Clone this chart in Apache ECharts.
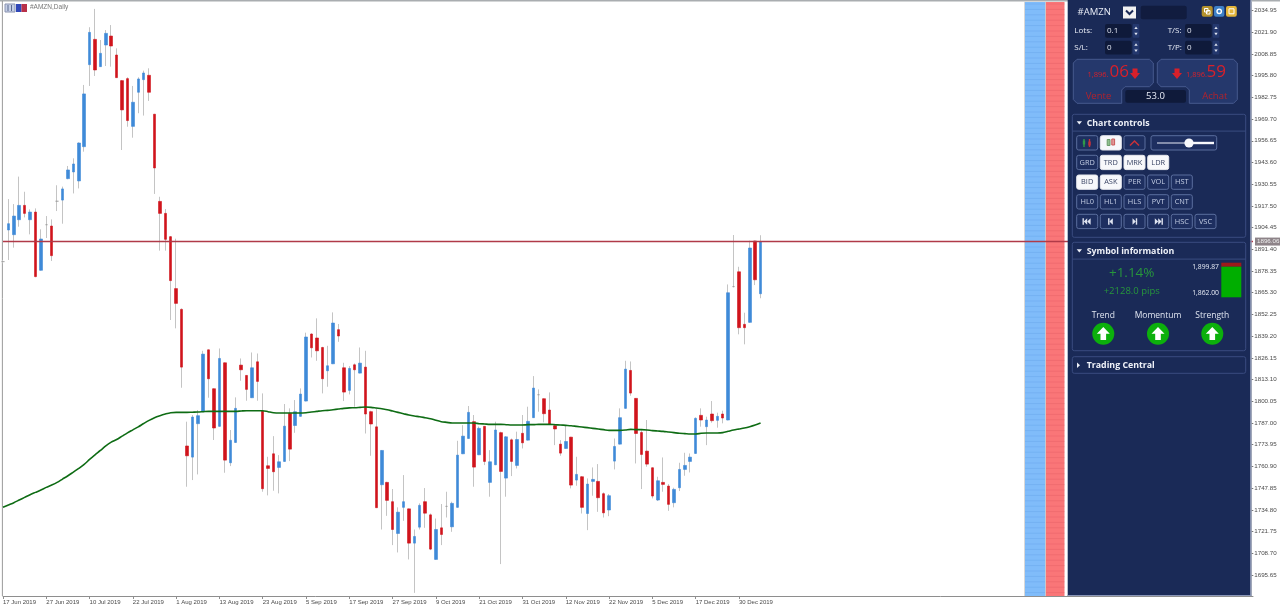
<!DOCTYPE html>
<html><head><meta charset="utf-8">
<style>html,body{margin:0;padding:0;background:#fff}#c{width:1280px;height:609px}</style>
<script src="https://cdn.jsdelivr.net/npm/echarts@6/dist/echarts.min.js"></script>
</head><body><div id="c"></div>
<script>
const tickLabels=['17 Jun 2019','27 Jun 2019','10 Jul 2019','22 Jul 2019','1 Aug 2019','13 Aug 2019','23 Aug 2019','5 Sep 2019','17 Sep 2019','27 Sep 2019','9 Oct 2019','21 Oct 2019','31 Oct 2019','12 Nov 2019','22 Nov 2019','5 Dec 2019','17 Dec 2019','30 Dec 2019'];
const priceTicks=[2034.95,2021.90,2008.85,1995.80,1982.75,1969.70,1956.65,1943.60,1930.55,1917.50,1904.45,1891.40,1878.35,1865.30,1852.25,1839.20,1826.15,1813.10,1800.05,1787.00,1773.95,1760.90,1747.85,1734.80,1721.75,1708.70,1695.65];
const lastPrice=1896.06;
const opens=[1884,1903.0,1900.2,1909.2,1917.8,1909.2,1913.8,1878.8,1906.2,1905.4,1920.3,1921.0,1933.9,1937.9,1932.5,1953.1,2002.4,2017.6,2001.2,2014.2,2019.6,2008.2,1992.8,1994.0,1965.3,1985.8,1993.4,1996.0,1972.6,1920.2,1913.0,1899.0,1867.8,
1855.3,1773.2,1766.5,1786.6,1793.8,1831.0,1807.6,1785.0,1823.2,1763.1,1775.3,1821.8,1815.6,1802.2,1823.8,1794.2,1761.3,1768.5,1760.3,1763.9,1792.8,1785.5,1791.0,1800.2,1840.5,1838.1,1832.4,1818.4,1822.6,1843.1,1820.2,1806.6,1822.0,1817.0,1820.6,1793.8,1784.7,1749.9,1751.3,1739.7,1720.6,1736.3,1735.4,1714.8,1724.4,1739.7,1731.8,1705.0,1724.0,1736.9,1724.6,1736.3,1768.5,1777.7,1787.8,1767.9,1785.0,1751.3,1761.9,1781.2,1753.9,1776.9,1761.5,1780.8,1776.7,
1790.2,1804.0,1801.6,1794.8,1785.4,1774.3,1771.7,1778.5,1752.7,1754.7,1732.6,1751.9,1751.9,1744.5,1734.7,1764.1,1774.3,1795.8,1818.6,1801.8,1781.3,1770.1,1760.1,1740.7,1751.3,1749.1,1739.1,1748.1,1759.1,1763.9,1768.7,1791.6,1784.8,1792.4,1788.6,1792.4,1788.8,1869.0,1877.9,1846.3,1847.5,1896.4,1864.7];
const closes=[1884,1906.8,1911.4,1917.8,1913.0,1913.8,1875.0,1897.6,1906.2,1887.6,1920.3,1927.7,1939.1,1942.7,1955.3,1984.8,2021.8,1999.2,2009.2,2021.2,2013.6,1994.6,1975.2,1968.8,1979.8,1993.8,1997.4,1985.8,1940.3,1913.0,1897.4,1872.6,1858.9,
1820.6,1767.3,1790.6,1791.4,1828.4,1813.6,1784.0,1825.8,1764.7,1776.6,1795.8,1819.0,1807.2,1820.2,1812.0,1747.5,1759.7,1757.7,1763.7,1785.1,1771.3,1793.8,1804.4,1838.7,1832.2,1830.4,1813.6,1821.4,1847.1,1839.3,1805.6,1819.8,1819.0,1823.0,1792.4,1786.4,1736.1,1770.5,1740.5,1723.0,1733.4,1739.7,1714.8,1718.8,1737.5,1732.8,1711.2,1723.0,1720.0,1736.9,1738.7,1767.7,1779.1,1793.4,1760.5,1783.8,1763.9,1763.7,1782.8,1757.9,1778.7,1763.9,1777.1,1775.1,1788.0,
1808.0,1804.0,1792.6,1786.4,1783.4,1768.9,1775.9,1749.7,1756.1,1736.3,1750.3,1753.1,1742.1,1733.0,1743.3,1772.9,1790.2,1819.4,1805.0,1780.7,1768.1,1762.3,1743.1,1752.3,1750.1,1738.1,1747.1,1759.1,1761.5,1766.5,1789.8,1788.8,1788.8,1788.4,1791.0,1790.0,1865.3,1869.0,1844.3,1844.3,1892.2,1873.1,1896.0];
const lows=[1883,1885.0,1892.4,1905.0,1910.6,1900.4,1874.6,1878.6,1898.2,1884.4,1914.4,1906.8,1933.5,1925.0,1928.0,1950.1,1989.6,1995.6,2001.0,2001.6,2001.2,1994.4,1951.1,1965.1,1958.5,1973.2,1971.8,1980.6,1924.7,1890.6,1890.6,1848.9,1843.9,
1808.2,1748.7,1752.7,1756.1,1793.6,1802.2,1776.8,1784.8,1757.1,1761.1,1775.1,1812.4,1800.4,1802.0,1800.4,1745.7,1743.5,1746.3,1744.7,1763.7,1764.1,1781.1,1790.8,1800.0,1826.4,1824.4,1804.8,1808.8,1822.4,1835.8,1800.2,1804.2,1796.8,1816.8,1780.7,1767.3,1735.9,1723.0,1731.2,1713.6,1709.2,1728.2,1705.0,1684.9,1723.0,1724.0,1710.6,1704.8,1713.6,1730.2,1721.6,1736.1,1768.3,1777.5,1748.7,1767.7,1761.7,1742.7,1761.7,1702.2,1742.7,1755.1,1759.7,1771.7,1776.5,
1790.0,1793.8,1787.4,1786.2,1773.7,1767.3,1771.5,1747.7,1749.3,1732.6,1722.6,1743.3,1733.6,1730.2,1731.0,1759.1,1774.1,1795.6,1803.4,1762.7,1747.3,1760.7,1741.7,1740.1,1745.7,1734.2,1736.3,1746.1,1755.3,1757.3,1768.5,1784.8,1773.7,1787.2,1784.2,1786.8,1788.6,1868.5,1840.3,1834.3,1847.3,1869.9,1862.0];
const highs=[1885,1921.6,1918.6,1935.1,1926.0,1915.4,1916.0,1903.4,1911.4,1909.4,1929.9,1929.1,1941.5,1946.1,1955.7,1990.2,2024.9,2035.9,2017.2,2023.2,2026.2,2012.2,1993.2,1994.8,1989.6,1994.8,1998.8,2000.2,1972.8,1923.0,1915.6,1899.4,1897.8,
1855.9,1787.8,1791.8,1794.8,1830.4,1831.2,1807.8,1831.8,1823.4,1782.8,1802.4,1825.8,1815.8,1829.4,1828.8,1804.8,1766.7,1779.1,1767.7,1798.4,1795.8,1800.8,1807.8,1841.3,1840.9,1849.9,1832.8,1833.4,1853.5,1846.5,1823.2,1821.2,1822.8,1832.4,1830.4,1794.4,1795.8,1770.7,1751.7,1747.3,1736.3,1755.7,1735.6,1723.0,1738.7,1747.9,1732.6,1729.6,1738.3,1745.7,1739.7,1776.3,1785.7,1797.2,1791.8,1784.9,1785.2,1770.7,1787.8,1781.8,1779.1,1777.7,1781.8,1791.8,1796.8,
1815.2,1807.2,1801.8,1805.4,1786.6,1776.7,1785.2,1778.7,1766.7,1755.1,1753.7,1760.3,1762.3,1745.3,1744.3,1777.7,1795.8,1824.4,1824.0,1802.0,1782.7,1788.8,1760.3,1754.7,1766.3,1750.3,1748.1,1763.1,1769.1,1768.7,1790.4,1795.8,1790.8,1800.2,1793.2,1794.4,1870.3,1900.0,1880.9,1853.3,1896.6,1896.6,1899.87];
const movingAvg=[1736.3,1737.7,1739.1,1740.7,1742.3,1743.9,1745.3,1746.7,1748.3,1749.7,1751.3,1753.3,1755.3,1757.5,1759.7,1762.1,1765.1,1767.9,1770.5,1773.3,1775.5,1777.1,1779.1,1781.1,1782.9,1784.7,1786.7,1788.6,1790.2,1791.4,1792.4,1793.2,1793.4,1793.4,1793.4,1793.5,1793.6,1793.8,1794.0,1794.0,1794.0,1794.0,1794.0,1794.0,1794.2,1794.4,1794.4,1794.4,1794.4,1793.8,1793.2,1793.0,1793.0,1793.0,1793.0,1793.0,1793.2,1793.6,1794.0,1794.4,1794.6,1795.0,1795.4,1795.8,1796.1,1796.2,1796.4,1796.6,1796.4,1796.0,1795.6,1795.0,1794.2,1793.4,1792.6,1791.8,1791.2,1790.8,1790.2,1789.6,1788.6,1787.8,1787.4,1787.0,1787.0,1787.0,1787.0,1787.0,1786.6,1786.4,1786.2,1786.2,1786.2,1786.0,1785.8,1785.8,1785.8,1786.0,1786.0,1786.2,1786.2,1786.2,1786.0,1785.8,1785.6,1785.4,1785.0,1784.6,1784.2,1783.8,1783.4,1783.0,1782.6,1782.6,1782.6,1782.8,1783.2,1783.0,1783.0,1782.8,1782.4,1782.2,1782.0,1781.6,1781.2,1780.8,1780.6,1780.4,1780.4,1780.8,1781.0,1781.0,1781.0,1781.2,1782.0,1782.8,1783.4,1784.0,1784.8,1785.8,1787.0];

const BARS=232;
const categories=Array.from({length:BARS},(_,k)=>k%8===0&&tickLabels[k/8]?tickLabels[k/8]:'');
const wicks=opens.map((o,i)=>[o,closes[i],lows[i],highs[i]]);
const bodies=opens.map((o,i)=>[o,closes[i],Math.min(o,closes[i]),Math.max(o,closes[i])]);
const priceLine=categories.map(()=>lastPrice);

// ---- terminal panel drawn with graphic elements ----
const G=[];const Z=100;
const rect=(x,y,w,h,fill,stroke,r,z)=>G.push({type:'rect',z:z===undefined?Z:z,silent:true,shape:{x,y,width:w,height:h,r:r||0},style:{fill:fill||'none',stroke:stroke||null,lineWidth:1}});
const txt=(x,y,text,fill,font,align,z)=>G.push({type:'text',z:z===undefined?Z:z,silent:true,x,y,style:{text,fill,font,textAlign:align||'left',textVerticalAlign:'middle'}});
const poly=(pts,fill,z)=>G.push({type:'polygon',z:z===undefined?Z:z,silent:true,shape:{points:pts},style:{fill}});
const line=(x1,y1,x2,y2,stroke,w,z,op)=>G.push({type:'line',z:z===undefined?Z:z,silent:true,shape:{x1,y1,x2,y2},style:{stroke,lineWidth:w||1,opacity:op===undefined?1:op}});
const FF='"Open Sans",sans-serif';
const f=(s,b)=>(b?'bold ':'')+s+'px '+FF;

// frame and header
rect(0,0,1280,1.6,'#a9adb0',null,0,0);
line(2.4,1,2.4,596,'#9a9a9a',1,0);
rect(5,4,10,8,'#c4cee6','#8a93b0',0,5);line(8,5,8,11,'#5b6a90',1,5);line(11.5,5,11.5,11,'#5b6a90',1,5);
rect(16,4,5.5,8,'#3048b8',null,0,5);rect(21.5,4,5.5,8,'#b83048',null,0,5);
txt(30,7.5,'#AMZN,Daily','#777','6.5px "Liberation Sans",sans-serif','left',5);

// side bands
rect(1024,2,1,594,'#d8d8d8',null,0,0);
rect(1025,2,20,594,'#80bcfa',null,0,0);
rect(1045,2,1,594,'#c8c8cc',null,0,0);
rect(1046,2,18.5,594,'#fa7678',null,0,0);
for(let y=4;y<596;y+=5.4){line(1025,y,1045,y,'#5f9fe6',1,0,0.35);line(1046,y,1064.5,y,'#e05a60',1,0,0.35);}

// panel
rect(1067.7,0,183,596,'#1a2a57',null);
line(1251,0,1251,596,'#9aa6c4',1.2);
line(1067.7,595.5,1251,595.5,'#8a96b8',1);

// symbol row
txt(1077.5,12.5,'#AMZN','#e8ecf6',f(9.5));
rect(1123,6.5,13,12,'#f2f2f2');
G.push({type:'polyline',z:Z,silent:true,shape:{points:[[1126,10.5],[1129.5,14],[1133,10.5]]},style:{stroke:'#1a2a57',lineWidth:2,fill:'none'}});
rect(1140.7,5.7,46,13.6,'#111c3f',null,2);
rect(1201.7,6,11,10.7,'#b3912c',null,2);rect(1214,6,10.4,10.7,'#3d80c8',null,2);rect(1226,6,10.8,10.7,'#e3b53a',null,2);
rect(1204.5,8.5,3.5,3.5,'none','#fff');rect(1206.5,10.5,3.5,3.5,'none','#fff');
G.push({type:'circle',z:Z,silent:true,shape:{cx:1219.2,cy:11.3,r:2.2},style:{fill:'none',stroke:'#fff',lineWidth:1.4}});
rect(1229,8.8,5,5,'none','#fff');

// lots etc.
const fld=(lx,label,ix,iy,val)=>{txt(lx,iy+6.8,label,'#e8ecf6',f(8));rect(ix,iy,26.7,13.7,'#0f1a3a',null,2);txt(ix+2,iy+6.8,val,'#dfe4f0',f(8));
 rect(ix+27.7,iy,6.6,13.7,'#24386e',null,1);
 poly([[ix+29.3,iy+5],[ix+31,iy+2.5],[ix+32.7,iy+5]],'#dfe4f0');poly([[ix+29.3,iy+8.8],[ix+31,iy+11.3],[ix+32.7,iy+8.8]],'#dfe4f0');};
fld(1074.3,'Lots:',1105,24,'0.1');fld(1074.3,'S/L:',1105,40.7,'0');
fld(1167.7,'T/S:',1185,24,'0');fld(1167.7,'T/P:',1185,40.7,'0');

// sell & buy boxes
const boxF='#25386c',boxS='#46598e';
poly([[1077,59.3],[1149.5,59.3],[1153.3,63],[1153.3,83],[1149.5,86.7],[1125,86.7],[1121.7,90],[1121.7,103.3],[1077,103.3],[1073.3,99.5],[1073.3,63]],boxF);
poly([[1161,59.3],[1233.5,59.3],[1237.3,63],[1237.3,99.5],[1233.5,103.3],[1189.3,103.3],[1189.3,90],[1186,86.7],[1161,86.7],[1157.3,83],[1157.3,63]],boxF);
G.slice(-2).forEach(e=>{e.style.stroke=boxS;e.style.lineWidth=1;});
const RED='#d8202a';
txt(1087.5,75,'1,896.',RED,f(7.5));txt(1109.5,72.5,'06',RED,f(17));
poly([[1132.5,68.5],[1137.5,68.5],[1137.5,73],[1140,73],[1135,79],[1130,73],[1132.5,73]],RED);
poly([[1174.5,68.5],[1179.5,68.5],[1179.5,73],[1182,73],[1177,79],[1172,73],[1174.5,73]],RED);
txt(1186,75,'1,896.',RED,f(7.5));txt(1206.5,72.5,'59',RED,f(17));
txt(1085.7,95.8,'Vente','#b3222c',f(9.5));txt(1202.3,95.8,'Achat','#b3222c',f(9.5));
rect(1125.3,90,60.7,12.7,'#0f1a3a',null,2);txt(1155.5,96.6,'53.0','#e8ecf6',f(9.5),'center');

// sections
const sect=(y,h,title,open)=>{rect(1072.3,y,173.4,h,'#1a2a57','#3a4c80',2);
 if(open){poly([[1076.7,y+7],[1082,y+7],[1079.3,y+10.2]],'#eef1f8');line(1072.3,y+16.8,1245.7,y+16.8,'#3a4c80');}
 else poly([[1077,y+5.8],[1080,y+8.5],[1077,y+11.2]],'#eef1f8');
 txt(1086.7,y+8.8,title,'#eef1f8',f(8.8,true));};
sect(114.3,123,'Chart controls',true);
sect(242.3,108.4,'Symbol information',true);
sect(356.7,16.6,'Trading Central',false);

// buttons
const colX=[1076.7,1100.3,1124,1147.7,1171.3,1195];
const btn=(c,y,label,on)=>{const x=colX[c];rect(x,y,21,14.3,on?'#f7f8fb':'#1e2f60',on?'#e6e8ee':'#5b6e9e',2);
 if(label)txt(x+10.5,y+7.3,label,on?'#3a4565':'#c4cee4',f(7.4),'center');};
btn(0,135.7,'');btn(1,135.7,'',true);btn(2,135.7,'');
line(1084,139,1084,147,'#2e9a4a',1.4);line(1089.5,139,1089.5,147,'#c8323a',1.4);rect(1082.8,140.5,2.4,4,'#2e9a4a');rect(1088.3,141.5,2.4,4,'#c8323a');
rect(1107.2,139.5,2.8,6,'#8fc08f','#6a9a6a');rect(1111.8,139,2.8,6,'#e29a9a','#c85a5a');
G.push({type:'polyline',z:Z,silent:true,shape:{points:[[1130,145.5],[1134.5,141],[1139,145.5]]},style:{stroke:'#c8323a',lineWidth:1.5,fill:'none'}});
rect(1151,135.7,65.7,14.3,'#1e2f60','#5b6e9e',2);
line(1157,143,1189,143,'#e8ecf6',1);line(1189,143,1214,143,'#f7f8fb',2.4);
G.push({type:'circle',z:Z,silent:true,shape:{cx:1189,cy:143,r:4.6},style:{fill:'#f7f8fb'}});
[['GRD',0],['TRD',1],['MRK',1],['LDR',1]].forEach((b,i)=>btn(i,155.3,b[0],!!b[1]));
[['BID',1],['ASK',1],['PER',0],['VOL',0],['HST',0]].forEach((b,i)=>btn(i,175,b[0],!!b[1]));
[['HL0',0],['HL1',0],['HLS',0],['PVT',0],['CNT',0]].forEach((b,i)=>btn(i,194.7,b[0],false));
[0,1,2,3].forEach(i=>btn(i,214.3,''));btn(4,214.3,'HSC');btn(5,214.3,'VSC');
const iy=221.5,IC='#dfe4f0';
const tri=(x,d)=>poly([[x,iy-3.2],[x+d*3.4,iy],[x,iy+3.2]],IC);
let cx=colX[0]+10.5;line(cx-4,iy-3.2,cx-4,iy+3.2,IC,1.4);tri(cx,-1);tri(cx+3.4,-1);
cx=colX[1]+10.5;line(cx-2,iy-3.2,cx-2,iy+3.2,IC,1.4);tri(cx+2,-1);
cx=colX[2]+10.5;line(cx+2,iy-3.2,cx+2,iy+3.2,IC,1.4);tri(cx-2,1);
cx=colX[3]+10.5;line(cx+4,iy-3.2,cx+4,iy+3.2,IC,1.4);tri(cx,1);tri(cx-3.4,1);

// symbol info
const GR='#27963c';
txt(1131.7,272.8,'+1.14%',GR,f(13.5),'center');
txt(1131.7,291.7,'+2128.0 pips',GR,f(9.5),'center');
txt(1219,266.7,'1,899.87','#e8ecf6',f(6.8),'right');
txt(1219,293.5,'1,862.00','#e8ecf6',f(6.8),'right');
rect(1221.3,262.7,20,4,'#9c1a1a');rect(1221.3,266.7,20,30.6,'#00ae00');
[[1103.3,'Trend'],[1158,'Momentum'],[1212.3,'Strength']].forEach(a=>{
 txt(a[0],315.8,a[1],'#dfe4f0',f(8.5),'center');
 G.push({type:'circle',z:Z,silent:true,shape:{cx:a[0],cy:333.7,r:11},style:{fill:'#0cb00c'}});
 const c=a[0];poly([[c,327],[c+6.5,333.8],[c+2.8,333.8],[c+2.8,340],[c-2.8,340],[c-2.8,333.8],[c-6.5,333.8]],'#fff');
});

const AF='"Liberation Sans",sans-serif';
const chart=echarts.init(document.getElementById('c'),null,{renderer:'canvas'});
chart.setOption({
 animation:false,backgroundColor:'#ffffff',
 grid:{left:2.25,right:27,top:2,bottom:13,containLabel:false},
 xAxis:{type:'category',data:categories,boundaryGap:false,
  axisLine:{lineStyle:{color:'#8e8e8e',width:1}},
  axisTick:{length:3,lineStyle:{color:'#8e8e8e'},interval:(k)=>k%8===0&&k<=136},
  axisLabel:{interval:7,showMaxLabel:false,hideOverlap:false,align:'left',margin:3.5,fontFamily:AF,fontSize:6,color:'#4a4a4a'},
  splitLine:{show:false}},
 yAxis:{type:'value',position:'right',offset:-1.7,scale:true,min:1683.02,max:2040.06,
  axisLine:{show:true,lineStyle:{color:'#a8a8a8'}},
  axisTick:{show:true,length:2,lineStyle:{color:'#777'},customValues:priceTicks},
  axisLabel:{margin:3,fontFamily:AF,fontSize:6.2,color:'#4a4a4a',padding:[2,0,0,0],customValues:priceTicks,formatter:v=>v.toFixed(2)},
  splitLine:{show:false}},
 series:[
  {type:'candlestick',name:'wick',data:wicks,barWidth:1,clip:true,z:2,
   itemStyle:{color:'#c4c4c4',color0:'#c4c4c4',borderColor:'#c4c4c4',borderColor0:'#c4c4c4',borderColorDoji:'#c4c4c4',borderWidth:1}},
  {type:'candlestick',name:'AMZN',data:bodies,barWidth:3,clip:true,z:3,
   itemStyle:{color:'#3f8ad8',color0:'#d0141c',borderColor:'#3f8ad8',borderColor0:'#d0141c',borderColorDoji:'#9a9a9a',borderWidth:0.6}},
  {type:'line',name:'MA',data:movingAvg,showSymbol:false,symbol:'none',smooth:0.3,z:4,clip:true,
   lineStyle:{color:'#0e6c14',width:1.6}},
  {type:'line',name:'Price',data:priceLine,showSymbol:false,symbol:'none',z:5,clip:false,
   lineStyle:{color:'#b03a48',width:1.6},itemStyle:{color:'#b03a48'},
   endLabel:{show:true,distance:2,formatter:()=>lastPrice.toFixed(2),fontFamily:AF,fontSize:6.2,color:'#eeeeee',backgroundColor:'#8d8388',padding:[1,2,1,2]}}
 ],
 graphic:{elements:G}
});
</script></body></html>
